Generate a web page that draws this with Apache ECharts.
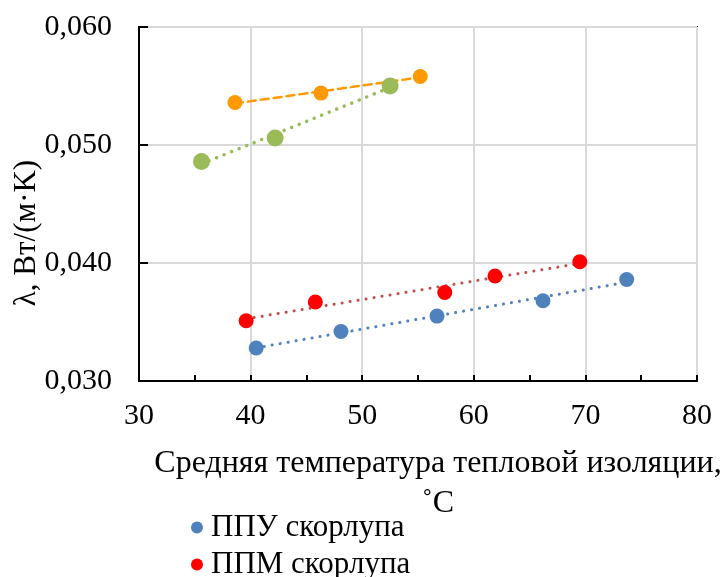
<!DOCTYPE html>
<html>
<head>
<meta charset="utf-8">
<script src="https://cdn.jsdelivr.net/npm/echarts@6/dist/echarts.min.js"></script>
<style>
  html, body { margin: 0; padding: 0; background: #fff; }
  #chart { width: 724px; height: 577px; }
</style>
</head>
<body>
<div id="chart"></div>
<script>
// данные
const ppuX = [40.5, 48.1, 56.7, 66.2, 73.7];
const ppuY = [0.0328, 0.0342, 0.0355, 0.0368, 0.0386];
const ppmX = [39.6, 45.8, 57.4, 61.9, 69.5];
const ppmY = [0.0351, 0.0367, 0.0375, 0.0389, 0.0401];
const orangeX = [38.6, 46.3, 55.2];
const orangeY = [0.0536, 0.0544, 0.0558];
const greenX = [35.6, 42.2, 52.5];
const greenY = [0.0486, 0.0506, 0.0550];

const xTicks = [30, 40, 50, 60, 70, 80];
const yTicks = [0.030, 0.040, 0.050, 0.060];

const font = "Liberation Serif";

function pairs(xs, ys) {
  return xs.map((x, i) => [x, ys[i]]);
}

// линейный тренд (как в Excel) по крайним точкам
function trend(xs, ys) {
  const n = xs.length;
  const mx = xs.reduce((a, b) => a + b, 0) / n;
  const my = ys.reduce((a, b) => a + b, 0) / n;
  let sxy = 0, sxx = 0;
  for (let i = 0; i < n; i++) {
    sxy += (xs[i] - mx) * (ys[i] - my);
    sxx += (xs[i] - mx) * (xs[i] - mx);
  }
  const k = sxy / sxx;
  const b = my - k * mx;
  const x0 = Math.min(...xs), x1 = Math.max(...xs);
  return [[x0, k * x0 + b], [x1, k * x1 + b]];
}

function trendSeries(xs, ys, color, type, width) {
  return {
    type: "line",
    data: trend(xs, ys),
    showSymbol: false,
    silent: true,
    z: 1,
    lineStyle: { color: color, width: width, type: type, cap: "round" }
  };
}

const chart = echarts.init(document.getElementById("chart"));
chart.setOption({
  animation: false,
  grid: {
    left: 139,
    right: 27,
    top: 27,
    bottom: 196,
    outerBoundsMode: "none",
    containLabel: false,
    show: true,
    borderColor: "#000",
    borderWidth: 2
  },
  legend: {
    orient: "vertical",
    left: 186,
    top: 507,
    height: 120,
    itemGap: 6,
    itemWidth: 12,
    itemHeight: 12,
    icon: "circle",
    data: ["ППУ скорлупа", "ППМ скорлупа"],
    textStyle: {
      fontFamily: font, fontSize: 31, color: "#000",
      lineHeight: 30, padding: [0, 0, 0, 3]
    }
  },
  xAxis: {
    type: "value",
    min: xTicks[0],
    max: xTicks[xTicks.length - 1],
    interval: 10,
    name: "Средняя температура тепловой изоляции,\n˚С",
    nameLocation: "middle",
    nameGap: 63,
    nameTextStyle: {
      fontFamily: font, fontSize: 32, color: "#000",
      lineHeight: 40, padding: [0, 0, 0, 40]
    },
    axisLine: { lineStyle: { color: "#000", width: 2 } },
    axisTick: { show: true, inside: true, length: 6, lineStyle: { color: "#000", width: 2 } },
    minorTick: { show: true, splitNumber: 2, length: 6, lineStyle: { color: "#000", width: 2 } },
    splitLine: { lineStyle: { color: "#d9d9d9", width: 2 } },
    axisLabel: { fontFamily: font, fontSize: 30, color: "#000", margin: 20 }
  },
  yAxis: {
    type: "value",
    min: yTicks[0],
    max: yTicks[yTicks.length - 1],
    interval: 0.01,
    name: "λ, Вт/(м·K)",
    nameLocation: "middle",
    nameGap: 97,
    nameMoveOverlap: false,
    nameTextStyle: {
      fontFamily: font, fontSize: 31, color: "#000",
      padding: [0, 58, 0, 0]
    },
    axisLine: { lineStyle: { color: "#000", width: 2 } },
    axisTick: { show: true, inside: true, length: 9, lineStyle: { color: "#000", width: 2 } },
    splitLine: { lineStyle: { color: "#d9d9d9", width: 2 } },
    axisLabel: {
      fontFamily: font, fontSize: 30, color: "#000", margin: 27,
      formatter: v => v.toFixed(3).replace(".", ",")
    }
  },
  series: [
    trendSeries(ppuX, ppuY, "#4F81BD", [0.1, 8], 3),
    trendSeries(ppmX, ppmY, "#C0504D", [0.1, 8], 3),
    trendSeries(orangeX, orangeY, "#FF9900", [8, 5], 2.5),
    trendSeries(greenX, greenY, "#9BBB59", [0.1, 8], 3.5),
    {
      name: "ППУ скорлупа",
      type: "scatter",
      data: pairs(ppuX, ppuY),
      symbolSize: 15,
      itemStyle: { color: "#4F81BD", opacity: 1 },
      z: 3
    },
    {
      name: "ППМ скорлупа",
      type: "scatter",
      data: pairs(ppmX, ppmY),
      symbolSize: 15,
      itemStyle: { color: "#FF0000", opacity: 1 },
      z: 3
    },
    {
      name: "Серия 3",
      type: "scatter",
      data: pairs(orangeX, orangeY),
      symbolSize: 15,
      itemStyle: { color: "#FF9900", opacity: 1 },
      z: 3
    },
    {
      name: "Серия 4",
      type: "scatter",
      data: pairs(greenX, greenY),
      symbolSize: 17,
      itemStyle: { color: "#9BBB59", opacity: 1 },
      z: 3
    }
  ]
});
</script>
</body>
</html>
